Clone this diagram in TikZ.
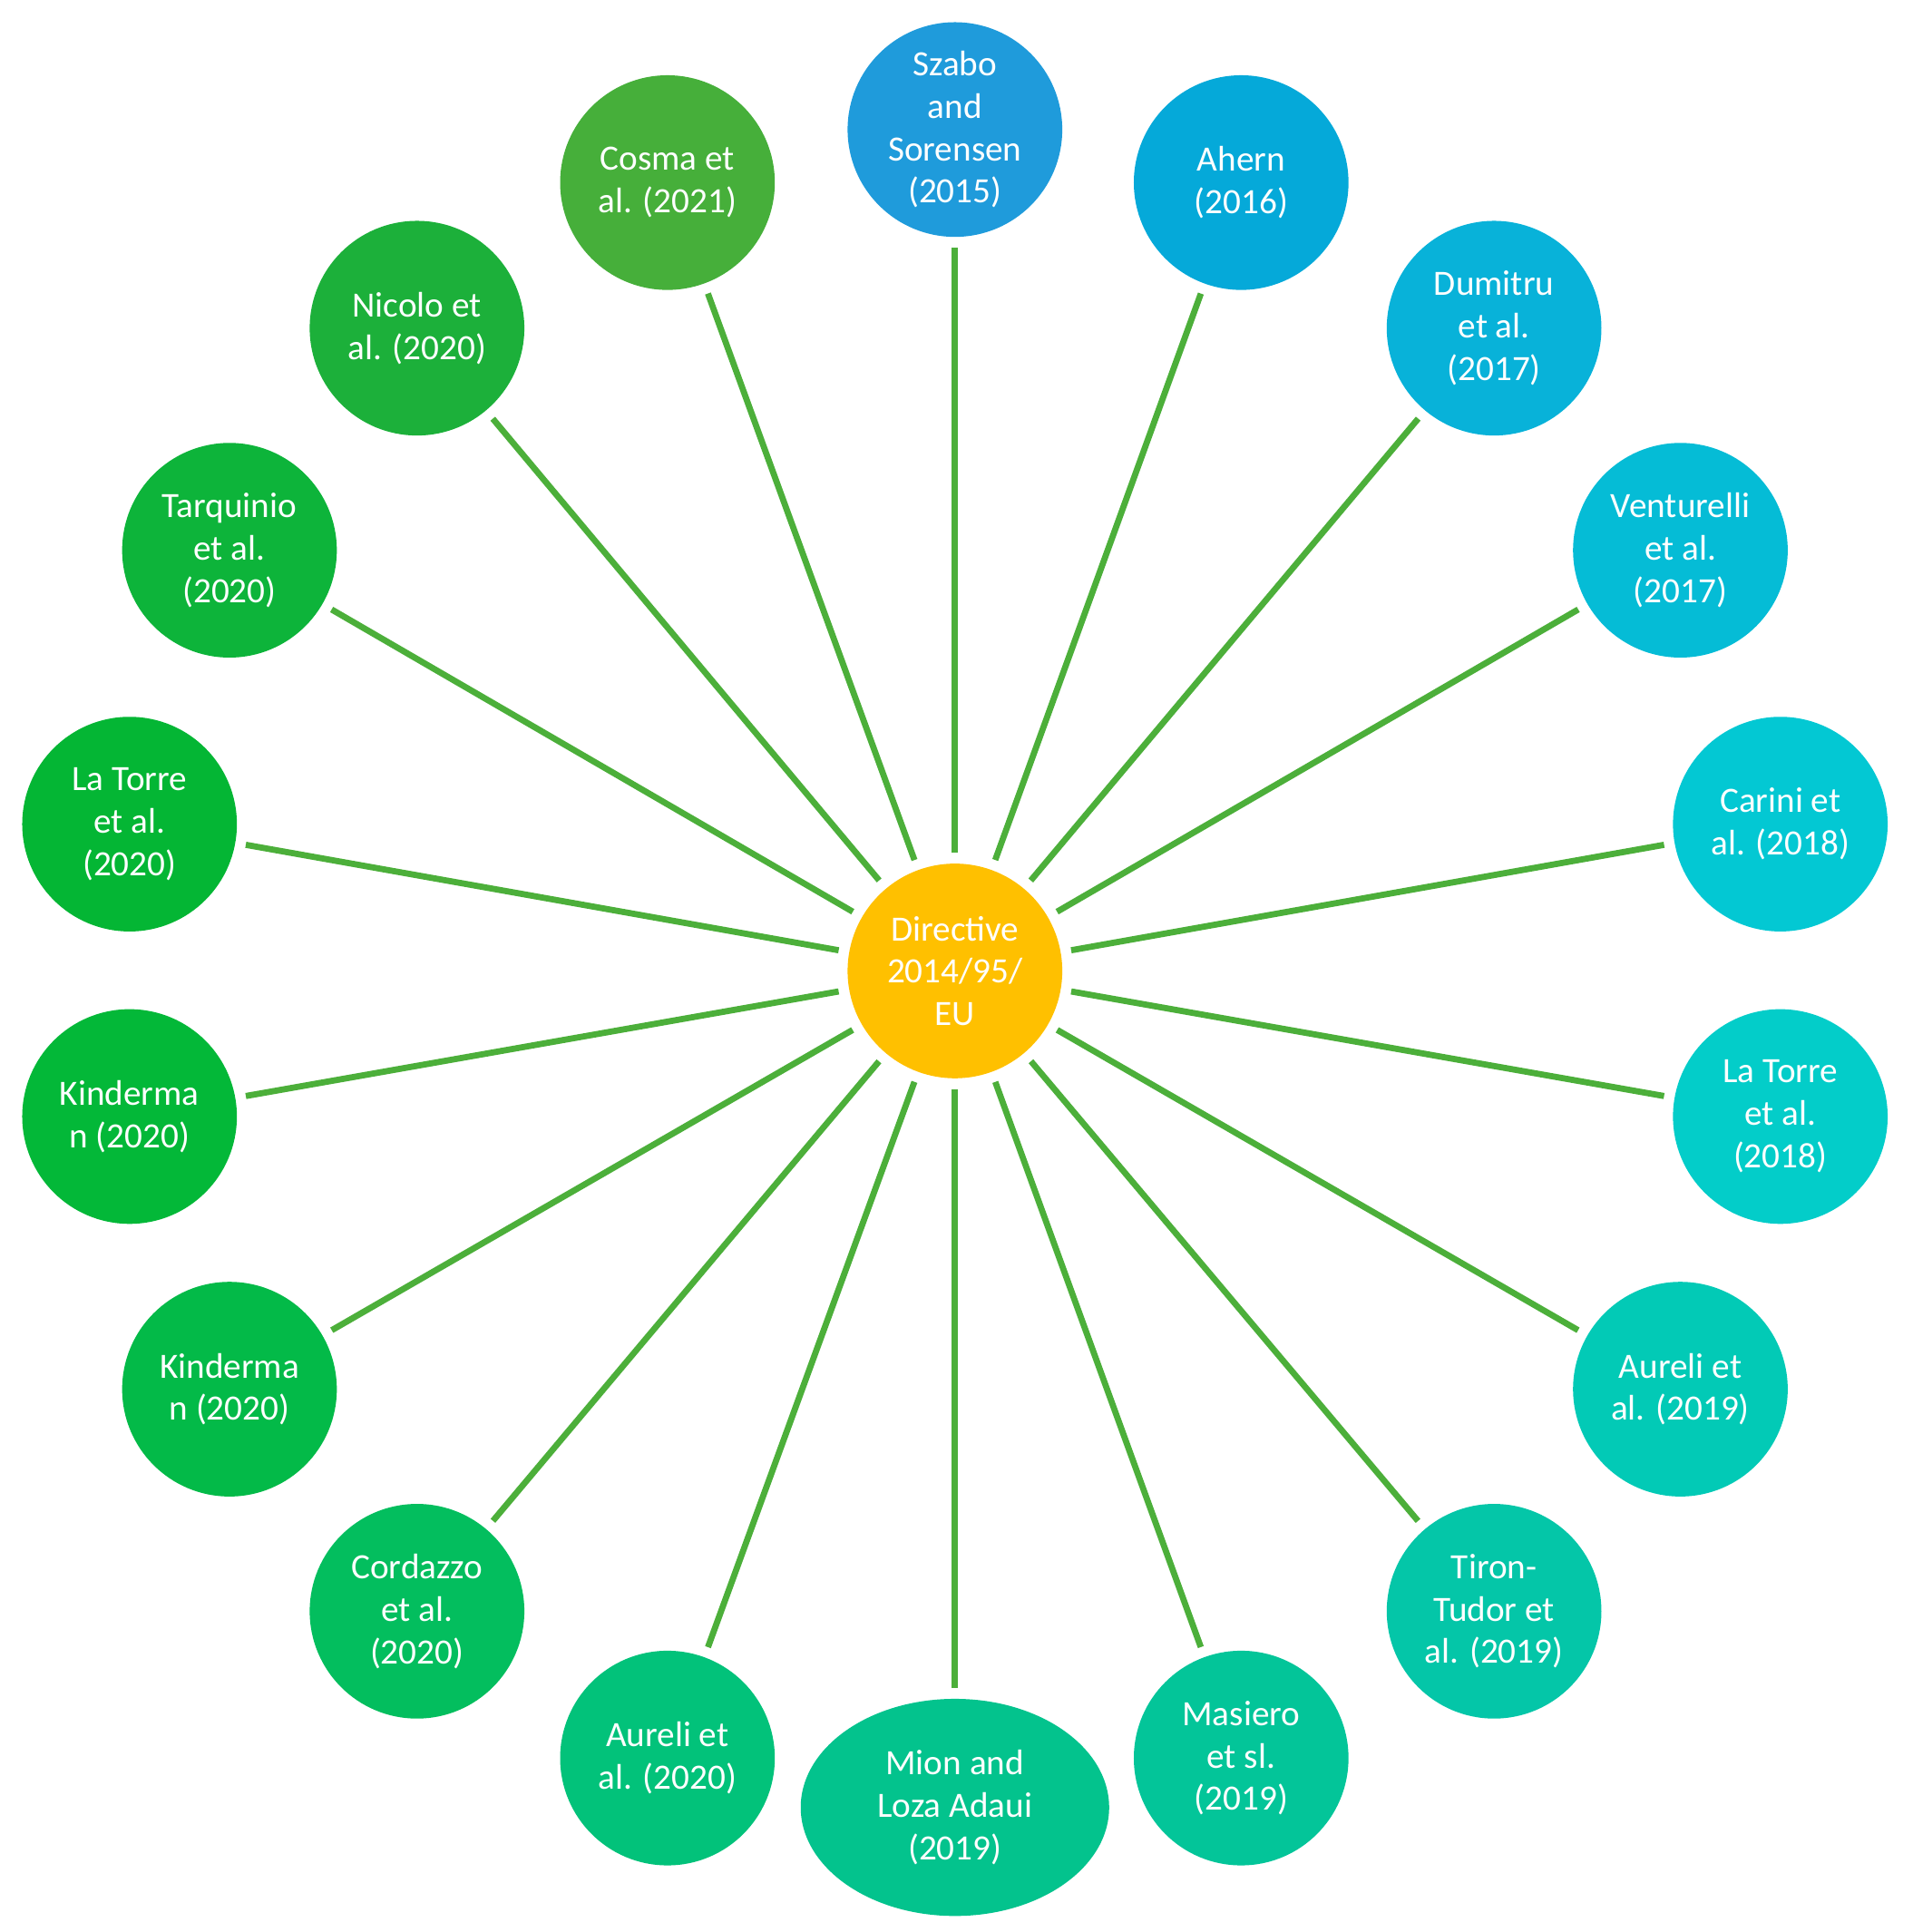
\documentclass[tikz,border=0pt]{standalone}
\usepackage{fontspec}
\usetikzlibrary{shapes.geometric}
\setmainfont{Carlito}
\begin{document}
\begin{tikzpicture}[x=0.1mm,y=-0.1mm,
  bub/.style={circle,minimum size=17.4mm,inner sep=0pt,align=center,text=white,font=\fontsize{8.2}{9.8}\selectfont}]
\definecolor{lk}{HTML}{4CAF3A}
\definecolor{cc}{HTML}{FFC000}
\useasboundingbox (0,0) rectangle (1550,1566);
\node[bub,fill=cc] (c) at (774,787) {Directive\\2014/95/\\EU};
\def\mk#1#2#3#4#5{\definecolor{col#1}{HTML}{#4}\node[bub,fill=col#1] (#1) at (#2,#3) {#5};}
\mk{a}{774}{105}{1F9BDB}{Szabo\\and\\Sorensen\\(2015)}
\mk{b}{1006}{148}{05A9D9}{Ahern\\(2016)}
\mk{d}{1211}{266}{08B2D9}{Dumitru\\et al.\\(2017)}
\mk{e}{1362}{446}{05BCD6}{Venturelli\\et al.\\(2017)}
\mk{f}{1443}{668}{03C8D3}{Carini et\\al. (2018)}
\mk{g}{1443}{905}{03CDC9}{La Torre\\et al.\\(2018)}
\mk{h}{1362}{1126}{02CAB6}{Aureli et\\al. (2019)}
\mk{i}{1211}{1306}{04C6A8}{Tiron-\\Tudor et\\al. (2019)}
\mk{j}{1006}{1425}{03C599}{Masiero\\et sl.\\(2019)}
\definecolor{colk}{HTML}{03C38D}
\node[ellipse,fill=colk,minimum width=25mm,minimum height=17.6mm,inner sep=0pt,align=center,text=white,font=\fontsize{8.2}{9.8}\selectfont] (k) at (774,1465) {Mion and\\Loza Adaui\\(2019)};
\mk{l}{541}{1425}{02C27A}{Aureli et\\al. (2020)}
\mk{m}{338}{1306}{03BE5E}{Cordazzo\\et al.\\(2020)}
\mk{n}{186}{1126}{03BA48}{Kinderma\\n (2020)}
\mk{o}{105}{905}{03B838}{Kinderma\\n (2020)}
\mk{p}{105}{668}{04B634}{La Torre\\et al.\\(2020)}
\mk{q}{186}{446}{0DB43A}{Tarquinio\\et al.\\(2020)}
\mk{r}{338}{266}{1CB03A}{Nicolo et\\al. (2020)}
\mk{s}{541}{148}{46AF3A}{Cosma et\\al. (2021)}
\foreach \t in {a,b,d,e,f,g,h,i,j,k,l,m,n,o,p,q,r,s}
  \draw[draw=lk,line width=0.5mm,shorten <=0.8mm,shorten >=0.8mm] (c) -- (\t);
\end{tikzpicture}
\end{document}
